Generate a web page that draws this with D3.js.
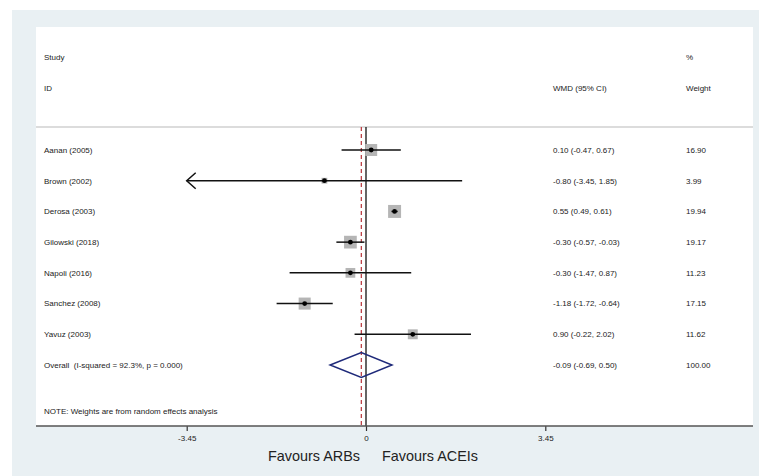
<!DOCTYPE html>
<html>
<head>
<meta charset="utf-8">
<script src="https://cdn.jsdelivr.net/npm/d3@7"></script>
<style>
  html, body { margin: 0; padding: 0; background: #fff; }
  svg { display: block; font-family: "Liberation Sans", Arial, sans-serif; }
  svg text { white-space: pre; }
</style>
</head>
<body>
<svg id="chart" width="759" height="476"></svg>
<script>
'use strict';

// Study rows
const studies = ['Aanan (2005)', 'Brown (2002)', 'Derosa (2003)', 'Gilowski (2018)',
  'Napoli (2016)', 'Sanchez (2008)', 'Yavuz (2003)'];
const wmd = [0.10, -0.80, 0.55, -0.30, -0.30, -1.18, 0.90];
const ciLow = [-0.47, -3.45, 0.49, -0.57, -1.47, -1.72, -0.22];
const ciHigh = [0.67, 1.85, 0.61, -0.03, 0.87, -0.64, 2.02];
const weights = [16.90, 3.99, 19.94, 19.17, 11.23, 17.15, 11.62];

// Pooled estimate
const overallLabel = 'Overall  (I-squared = 92.3%, p = 0.000)';
const overall = { est: -0.09, lo: -0.69, hi: 0.50, weight: 100.00 };

const tickValues = [-3.45, 0, 3.45];
const noteText = 'NOTE: Weights are from random effects analysis';

const svg = d3.select('#chart');

// plot frame (Stata-like graph region)
const outer = { x: 12, y: 10, w: 747, h: 466 };
const inner = { x: 36, y: 27, right: 753, bottom: 426 };
const headerLine = 127;

svg.append('rect')
  .attr('x', outer.x).attr('y', outer.y)
  .attr('width', outer.w).attr('height', outer.h)
  .attr('fill', '#e9f0f3');

svg.append('rect')
  .attr('x', inner.x).attr('y', inner.y)
  .attr('width', inner.right - inner.x).attr('height', inner.bottom - inner.y)
  .attr('fill', '#ffffff');

const x = d3.scaleLinear().domain([-3.45, 3.45]).range([186.7, 545.3]);
const rowIndex = d3.range(studies.length + 1);
const y = d3.scalePoint().domain(rowIndex).range([150, 365]);
const boxSide = d3.scaleSqrt().domain([0, 20]).range([0, 13]);

const labelX = 44;
const wmdX = 553;
const weightX = 686;
// plain hyphen for negatives, as in the original
const fmt = d3.formatLocale({ decimal: '.', thousands: ',', grouping: [3], currency: ['', ''], minus: '-' }).format('.2f');

const textRow = (txt, tx, ty, size = 8) => svg.append('text')
  .attr('x', tx).attr('y', ty)
  .attr('dy', '0.35em')
  .attr('font-size', size)
  .attr('fill', '#222')
  .text(txt);

// headers
textRow('Study', labelX, 57);
textRow('ID', labelX, 88);
textRow('%', weightX, 57);
textRow('WMD (95% CI)', wmdX, 88);
textRow('Weight', weightX, 88);

svg.append('line')
  .attr('x1', inner.x).attr('x2', inner.right)
  .attr('y1', headerLine).attr('y2', headerLine)
  .attr('stroke', '#d0d0d0').attr('stroke-width', 1.5);

// null line and overall effect line
svg.append('line')
  .attr('x1', x(0)).attr('x2', x(0))
  .attr('y1', headerLine).attr('y2', inner.bottom)
  .attr('stroke', '#111').attr('stroke-width', 1.3);

svg.append('line')
  .attr('x1', x(overall.est)).attr('x2', x(overall.est))
  .attr('y1', headerLine).attr('y2', inner.bottom)
  .attr('stroke', '#b8343a').attr('stroke-width', 1.2)
  .attr('stroke-dasharray', '4,3');

// study rows
const rows = studies.map((name, i) => ({
  name, est: wmd[i], lo: ciLow[i], hi: ciHigh[i], weight: weights[i], idx: i
}));

const g = svg.append('g');

g.selectAll('rect.box')
  .data(rows)
  .join('rect')
  .attr('class', 'box')
  .attr('x', d => x(d.est) - boxSide(d.weight) / 2)
  .attr('y', d => y(d.idx) - boxSide(d.weight) / 2)
  .attr('width', d => boxSide(d.weight))
  .attr('height', d => boxSide(d.weight))
  .attr('fill', '#b5b5b5');

g.selectAll('line.ci')
  .data(rows)
  .join('line')
  .attr('class', 'ci')
  .attr('x1', d => x(Math.max(d.lo, -3.45)))
  .attr('x2', d => x(d.hi))
  .attr('y1', d => y(d.idx)).attr('y2', d => y(d.idx))
  .attr('stroke', '#111').attr('stroke-width', 1.5);

// arrow where the interval runs off the displayed range
g.selectAll('path.arrow')
  .data(rows.filter(d => d.lo <= -3.45))
  .join('path')
  .attr('class', 'arrow')
  .attr('d', d => {
    const ax = x(-3.45), ay = y(d.idx);
    return `M${ax + 9},${ay - 8}L${ax},${ay}L${ax + 9},${ay + 8}`;
  })
  .attr('fill', 'none')
  .attr('stroke', '#111').attr('stroke-width', 1.5);

g.selectAll('circle.pt')
  .data(rows)
  .join('circle')
  .attr('class', 'pt')
  .attr('cx', d => x(d.est))
  .attr('cy', d => y(d.idx))
  .attr('r', 2.4)
  .attr('fill', '#000');

rows.forEach(d => {
  textRow(d.name, labelX, y(d.idx));
  textRow(`${fmt(d.est)} (${fmt(d.lo)}, ${fmt(d.hi)})`, wmdX, y(d.idx));
  textRow(fmt(d.weight), weightX, y(d.idx));
});

// overall diamond
const oy = y(studies.length);
svg.append('path')
  .attr('d', `M${x(overall.lo)},${oy}L${x(overall.est)},${oy - 12.5}L${x(overall.hi)},${oy}L${x(overall.est)},${oy + 12.5}Z`)
  .attr('fill', 'none')
  .attr('stroke', '#1f2a7a').attr('stroke-width', 1.5);

textRow(overallLabel, labelX, oy);
textRow(`${fmt(overall.est)} (${fmt(overall.lo)}, ${fmt(overall.hi)})`, wmdX, oy);
textRow(fmt(overall.weight), weightX, oy);

textRow(noteText, labelX, 411);

// x axis
const axis = svg.append('g')
  .attr('transform', `translate(0,${inner.bottom})`)
  .call(d3.axisBottom(x)
    .tickValues(tickValues)
    .tickSize(5)
    .tickFormat(d => d === 0 ? '0' : fmt(d)));

axis.select('.domain').remove();
axis.selectAll('.tick line').attr('stroke', '#333').attr('stroke-width', 1.2);
axis.selectAll('.tick text')
  .attr('font-family', '"Liberation Sans", Arial, sans-serif')
  .attr('font-size', 8)
  .attr('fill', '#222')
  .attr('y', 9);

svg.append('line')
  .attr('x1', inner.x).attr('x2', inner.right)
  .attr('y1', inner.bottom).attr('y2', inner.bottom)
  .attr('stroke', '#555').attr('stroke-width', 1.6);

// favours labels
svg.append('text')
  .attr('x', 360).attr('y', 461)
  .attr('text-anchor', 'end')
  .attr('font-size', 14.4)
  .attr('fill', '#222')
  .text('Favours ARBs');

svg.append('text')
  .attr('x', 382).attr('y', 461)
  .attr('font-size', 14.4)
  .attr('fill', '#222')
  .text('Favours ACEIs');
</script>
</body>
</html>
